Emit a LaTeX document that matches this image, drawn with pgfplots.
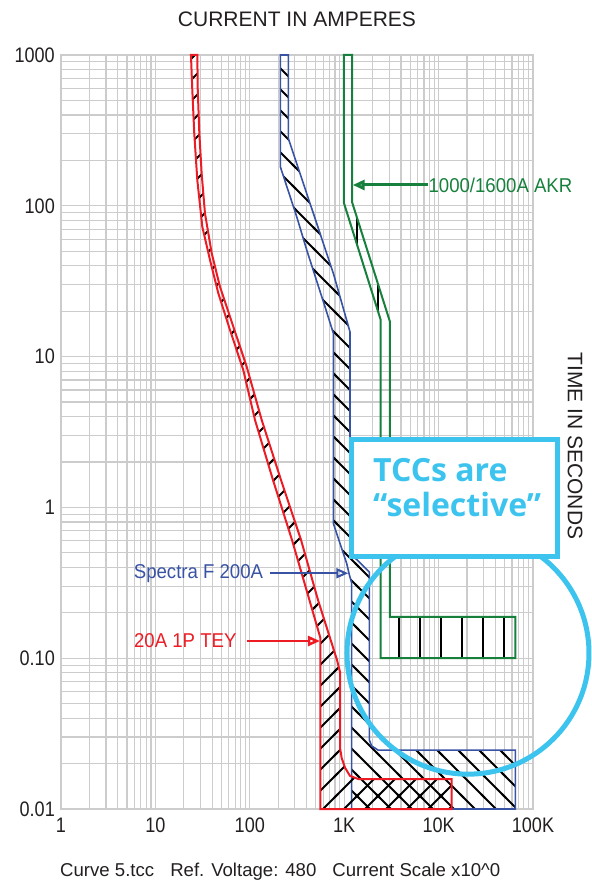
\documentclass[border=0pt]{standalone}
\usepackage{fontspec}
\setmainfont{Liberation Sans}
\newfontfamily\tickfont{Liberation Sans}[FakeStretch=0.86]
\newfontfamily\labfont{Liberation Sans}[FakeStretch=0.93]
\newfontfamily\tccfont{Open Sans}
\usepackage{pgfplots}
\pgfplotsset{compat=1.18}
\usetikzlibrary{patterns,arrows.meta}

\definecolor{tccred}{RGB}{237,28,36}
\definecolor{tccblue}{RGB}{56,82,164}
\definecolor{tccgreen}{RGB}{22,128,60}
\definecolor{tcccyan}{RGB}{60,196,238}
\definecolor{gridgray}{RGB}{204,204,204}
\definecolor{inkgray}{RGB}{35,31,32}

% hatch patterns, tiles overlap a little so the lines have no seams
\pgfdeclarepatternformonly{hatchNE}{\pgfqpoint{-3bp}{-3bp}}{\pgfqpoint{24bp}{24bp}}{\pgfqpoint{21bp}{21bp}}{%
  \pgfsetlinewidth{2bp}%
  \pgfpathmoveto{\pgfqpoint{-2bp}{-2bp}}%
  \pgfpathlineto{\pgfqpoint{23bp}{23bp}}%
  \pgfusepath{stroke}}
\pgfdeclarepatternformonly{hatchNW}{\pgfqpoint{-3bp}{-3bp}}{\pgfqpoint{24bp}{24bp}}{\pgfqpoint{21bp}{21bp}}{%
  \pgfsetlinewidth{2bp}%
  \pgfpathmoveto{\pgfqpoint{-2bp}{23bp}}%
  \pgfpathlineto{\pgfqpoint{23bp}{-2bp}}%
  \pgfusepath{stroke}}
\pgfdeclarepatternformonly{hatchV}{\pgfqpoint{-2bp}{-3bp}}{\pgfqpoint{2bp}{13bp}}{\pgfqpoint{21bp}{10bp}}{%
  \pgfsetlinewidth{2bp}%
  \pgfpathmoveto{\pgfqpoint{0bp}{-2bp}}%
  \pgfpathlineto{\pgfqpoint{0bp}{12bp}}%
  \pgfusepath{stroke}}

\newcommand\tickfs{\tickfont\fontsize{21bp}{24bp}\selectfont}
\newcommand\labfs{\labfont\fontsize{20bp}{23bp}\selectfont}
\newcommand\titlefs{\fontsize{21bp}{24bp}\selectfont}
\newcommand\botfs{\fontsize{18.6bp}{22bp}\selectfont}
\newcommand\tccfs{\tccfont\bfseries\fontsize{32bp}{36bp}\selectfont}

\begin{document}
\begin{tikzpicture}
\useasboundingbox (0,0) rectangle (592bp,880bp);
\begin{axis}[
  at={(61bp,71bp)}, anchor=south west,
  scale only axis, width=472bp, height=754bp,
  xmode=log, ymode=log,
  xmin=1, xmax=100000, ymin=0.01, ymax=1000,
  xtick={1,10,100,1000,10000,100000},
  xticklabels={1,10,100,1K,10K,100K},
  ytick={0.01,0.1,1,10,100,1000},
  yticklabels={0.01,0.10,1,10,100,1000},
  minor xtick={2,3,4,5,6,7,8,9,20,30,40,50,60,70,80,90,200,300,400,500,600,700,800,900,2000,3000,4000,5000,6000,7000,8000,9000,20000,30000,40000,50000,60000,70000,80000,90000},
  minor ytick={0.02,0.03,0.04,0.05,0.06,0.07,0.08,0.09,0.2,0.3,0.4,0.5,0.6,0.7,0.8,0.9,2,3,4,5,6,7,8,9,20,30,40,50,60,70,80,90,200,300,400,500,600,700,800,900},
  grid=both,
  major grid style={draw=gridgray, line width=1.2bp},
  minor grid style={draw=gridgray, line width=1.2bp},
  axis line style={draw=gridgray, line width=1.2bp},
  major tick length=0pt, minor tick length=0pt,
  ticklabel style={font=\tickfs, text=inkgray, inner sep=0pt},
  xticklabel style={anchor=north, yshift=-9bp},
  yticklabel style={anchor=east, xshift=-6bp},
  clip=false,
]

% 1000/1600A AKR
\addplot [draw=tccgreen, line width=2bp, mark=none,
  pattern=hatchV, pattern color=black]
coordinates {
(995,1000) (995,104) (2437,17.5) (2437,0.1) (65000,0.1) (65000,0.188)
(3055,0.188) (3055,17.0) (1210,106) (1210,1000)
} --cycle;

% Spectra F 200A
\addplot [draw=tccblue, line width=1.6bp, mark=none,
  pattern=hatchNW, pattern color=black]
coordinates {
(210.5,1000) (210.5,181.7) (314,84.7) (401,50.9) (626,21.4) (767,14.3)
(767,0.785) (1062,0.426) (1130,0.36) (1200,0.315) (1200,0.01)
(65000,0.01) (65000,0.0246) (2280,0.0246) (1950,0.0262) (1845,0.0287)
(1845,0.373) (1151,0.499) (1151,14.6) (767,35.7) (471,89.2) (289,223)
(256,280) (256,1000)
} --cycle;

% 20A 1P TEY
\addplot [draw=tccred, line width=2bp, mark=none,
  pattern=hatchNE, pattern color=black]
coordinates {
(23.8,1000) (24.6,586) (25.8,303) (27.8,148) (31.4,72.6) (37.9,43.7)
(46.4,26.3) (61.7,15.0) (85.3,8.15) (113.5,3.80) (176,1.52) (280,0.608)
(560,0.136) (560,0.01) (13760,0.01) (13760,0.0158) (1410,0.0158)
(1150,0.0166) (1020,0.0188) (940,0.0218) (903,0.0255) (903,0.081)
(839,0.0973) (528,0.243) (349,0.608) (214,1.52) (133.7,3.80) (92.7,8.57)
(66.9,15.8) (48.3,29.1) (39.5,48.4) (33.5,89.2) (30.9,164) (29.2,303)
(28.1,586) (27.8,1000)
} --cycle;

% labels with arrows
\draw [tccgreen, line width=3bp, -{Triangle[open,length=12bp,width=10bp]}]
  (axis cs:7725,137.4) -- (axis cs:1230,137.4);
\node [anchor=west, inner sep=0pt, text=tccgreen, font=\labfs]
  at (axis cs:7800,137.4) {1000/1600A AKR};

\draw [tccblue, line width=2bp, -{Triangle[open,length=12bp,width=10bp]}]
  (axis cs:163.7,0.366) -- (axis cs:1105,0.366);
\node [anchor=base east, inner sep=0pt, text=tccblue, font=\labfs]
  at (axis cs:139,0.340) {Spectra F 200A};

\draw [tccred, line width=2.5bp, -{Triangle[open,length=12bp,width=10bp]}]
  (axis cs:92.7,0.130) -- (axis cs:554,0.130);
\node [anchor=base east, inner sep=0pt, text=tccred, font=\labfs]
  at (axis cs:72.6,0.1186) {20A 1P TEY};

% callout
\draw [tcccyan, line width=5bp] (axis cs:20480,0.108) circle [radius=121bp];
\draw [tcccyan, line width=5bp, fill=white]
  (axis cs:1181,2.84) rectangle (axis cs:179600,0.476);
\node [anchor=base west, inner sep=0pt, text=tcccyan, font=\tccfs]
  at (axis cs:2018,1.479) {TCCs are};
\node [anchor=base west, inner sep=0pt, text=tcccyan, font=\tccfs]
  at (axis cs:2018,0.867) {“selective”};
\end{axis}

\node [anchor=base, inner sep=0pt, font=\titlefs, text=inkgray]
  at (297bp,853bp) {CURRENT IN AMPERES};
\node [rotate=-90, inner sep=0pt, font=\titlefs, text=inkgray]
  at (575bp,434bp) {TIME IN SECONDS};
\node [anchor=base west, inner sep=0pt, font=\botfs, text=inkgray]
  at (60bp,4bp) {Curve 5.tcc\hspace{16bp}Ref. Voltage: 480\hspace{16bp}Current Scale x10\textasciicircum0};
\end{tikzpicture}
\end{document}
